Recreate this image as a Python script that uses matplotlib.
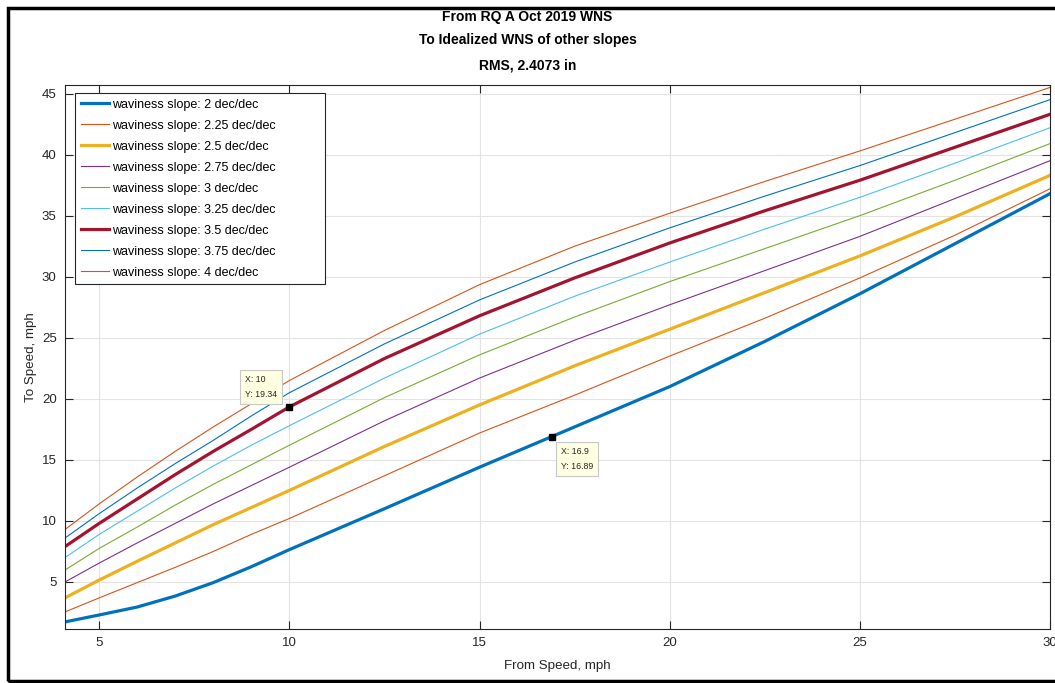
import matplotlib
matplotlib.use('Agg')
import matplotlib.pyplot as plt
from matplotlib.patches import Rectangle

# from speed, mph
from_speed = [4.1, 5, 6, 7, 8, 9, 10, 12.5, 15, 17.5, 20, 22.5, 25, 27.5, 30]

# to speed, mph, one list per waviness slope
slope_2 = [1.73, 2.3, 2.95, 3.85, 4.95, 6.25, 7.65, 11.0, 14.4, 17.7, 21.0, 24.7, 28.6, 32.7, 36.8]
slope_225 = [2.55, 3.7, 4.95, 6.2, 7.5, 8.9, 10.2, 13.7, 17.2, 20.3, 23.5, 26.6, 29.9, 33.4, 37.2]
slope_25 = [3.7, 5.16, 6.7, 8.2, 9.7, 11.1, 12.5, 16.1, 19.5, 22.7, 25.7, 28.7, 31.7, 34.9, 38.3]
slope_275 = [5.0, 6.55, 8.2, 9.8, 11.4, 12.9, 14.4, 18.2, 21.7, 24.8, 27.7, 30.5, 33.3, 36.4, 39.5]
slope_3 = [5.98, 7.75, 9.5, 11.3, 13.0, 14.6, 16.2, 20.1, 23.6, 26.7, 29.6, 32.3, 35.0, 37.9, 40.9]
slope_325 = [7.0, 8.9, 10.8, 12.7, 14.5, 16.2, 17.8, 21.7, 25.3, 28.4, 31.2, 33.9, 36.5, 39.3, 42.2]
slope_35 = [7.9, 9.8, 11.8, 13.8, 15.7, 17.5, 19.34, 23.3, 26.8, 29.9, 32.76, 35.4, 37.9, 40.6, 43.3]
slope_375 = [8.6, 10.6, 12.7, 14.7, 16.6, 18.6, 20.5, 24.5, 28.1, 31.2, 34.0, 36.6, 39.1, 41.8, 44.5]
slope_4 = [9.3, 11.4, 13.6, 15.7, 17.7, 19.6, 21.5, 25.6, 29.35, 32.5, 35.2, 37.8, 40.3, 42.9, 45.5]

slope_names = ['2', '2.25', '2.5', '2.75', '3', '3.25', '3.5', '3.75', '4']
series = [slope_2, slope_225, slope_25, slope_275, slope_3, slope_325, slope_35, slope_375, slope_4]
colors = ['#0072BD', '#D95319', '#EDB120', '#7E2F8E', '#77AC30', '#4DBEEE', '#A2142F', '#0072BD', '#D95319']
widths = [2.3, 0.8, 2.3, 0.8, 0.8, 0.8, 2.3, 0.8, 0.8]

# data tips
tips = [(10, 19.34, 'X: 10\nY: 19.34', -32, 23), (16.9, 16.89, 'X: 16.9\nY: 16.89', 6.5, -7.5)]

plt.rcParams['font.family'] = ['Liberation Sans', 'DejaVu Sans']

fig = plt.figure(figsize=(10.55, 6.83), dpi=100)
ax = fig.add_axes([65/1055, 1-629/683, 985/1055, 544/683])

for name, ys, c, w in zip(slope_names, series, colors, widths):
    ax.plot(from_speed, ys, color=c, linewidth=w, label='waviness slope: ' + name + ' dec/dec')

for x, y, txt, dx, dy in tips:
    ax.plot([x], [y], marker='s', color='black', markersize=5, zorder=5)
    ax.annotate(txt, (x, y), xytext=(dx, dy), textcoords='offset points', fontsize=6.3,
                va='top', ha='left', linespacing=1.85, color='#262626',
                bbox=dict(boxstyle='square,pad=0.55', fc='#FFFFE1', ec='#C8C8C8', lw=0.8),
                zorder=6)

ax.set_xlim(4.1, 30)
ax.set_ylim(1.15, 45.7)
ax.set_xticks([5, 10, 15, 20, 25, 30])
ax.set_yticks([5, 10, 15, 20, 25, 30, 35, 40, 45])
ax.grid(True, color='#E3E3E3', linewidth=0.8)
ax.set_axisbelow(True)
ax.tick_params(direction='in', length=6, width=0.8, colors='#262626', labelsize=9.5,
               top=True, right=True, pad=6)
for s in ax.spines.values():
    s.set_color('#262626')
    s.set_linewidth(0.8)

ax.set_xlabel('From Speed, mph', fontsize=9.6, color='#262626', labelpad=8)
ax.set_ylabel('To Speed, mph', fontsize=9.6, color='#262626', labelpad=3.5)

# legend box is wider than its text, as in the original
leg = ax.legend(loc='upper left', bbox_to_anchor=(10/985, 0, 250/985, 536/544), mode='expand',
                fontsize=9, handlelength=2.3, handletextpad=0.25,
                labelspacing=0.72, borderaxespad=0, fancybox=False, framealpha=1,
                borderpad=0.45)
leg.get_frame().set_edgecolor('#262626')
leg.get_frame().set_linewidth(0.8)

fig.text(0.5, 1-17/683, 'From RQ A Oct 2019 WNS', ha='center', va='center', fontsize=10, fontweight='bold')
fig.text(0.5, 1-40/683, 'To Idealized WNS of other slopes', ha='center', va='center', fontsize=10, fontweight='bold')
fig.text(0.5, 1-65/683, 'RMS, 2.4073 in', ha='center', va='center', fontsize=10, fontweight='bold')

# black frame around the figure
fig.patches.append(Rectangle((8/1055, 2/683), 1.1, 673/683, transform=fig.transFigure,
                             fill=False, edgecolor='black', linewidth=2.5))

fig.savefig('out.png', dpi=100)
